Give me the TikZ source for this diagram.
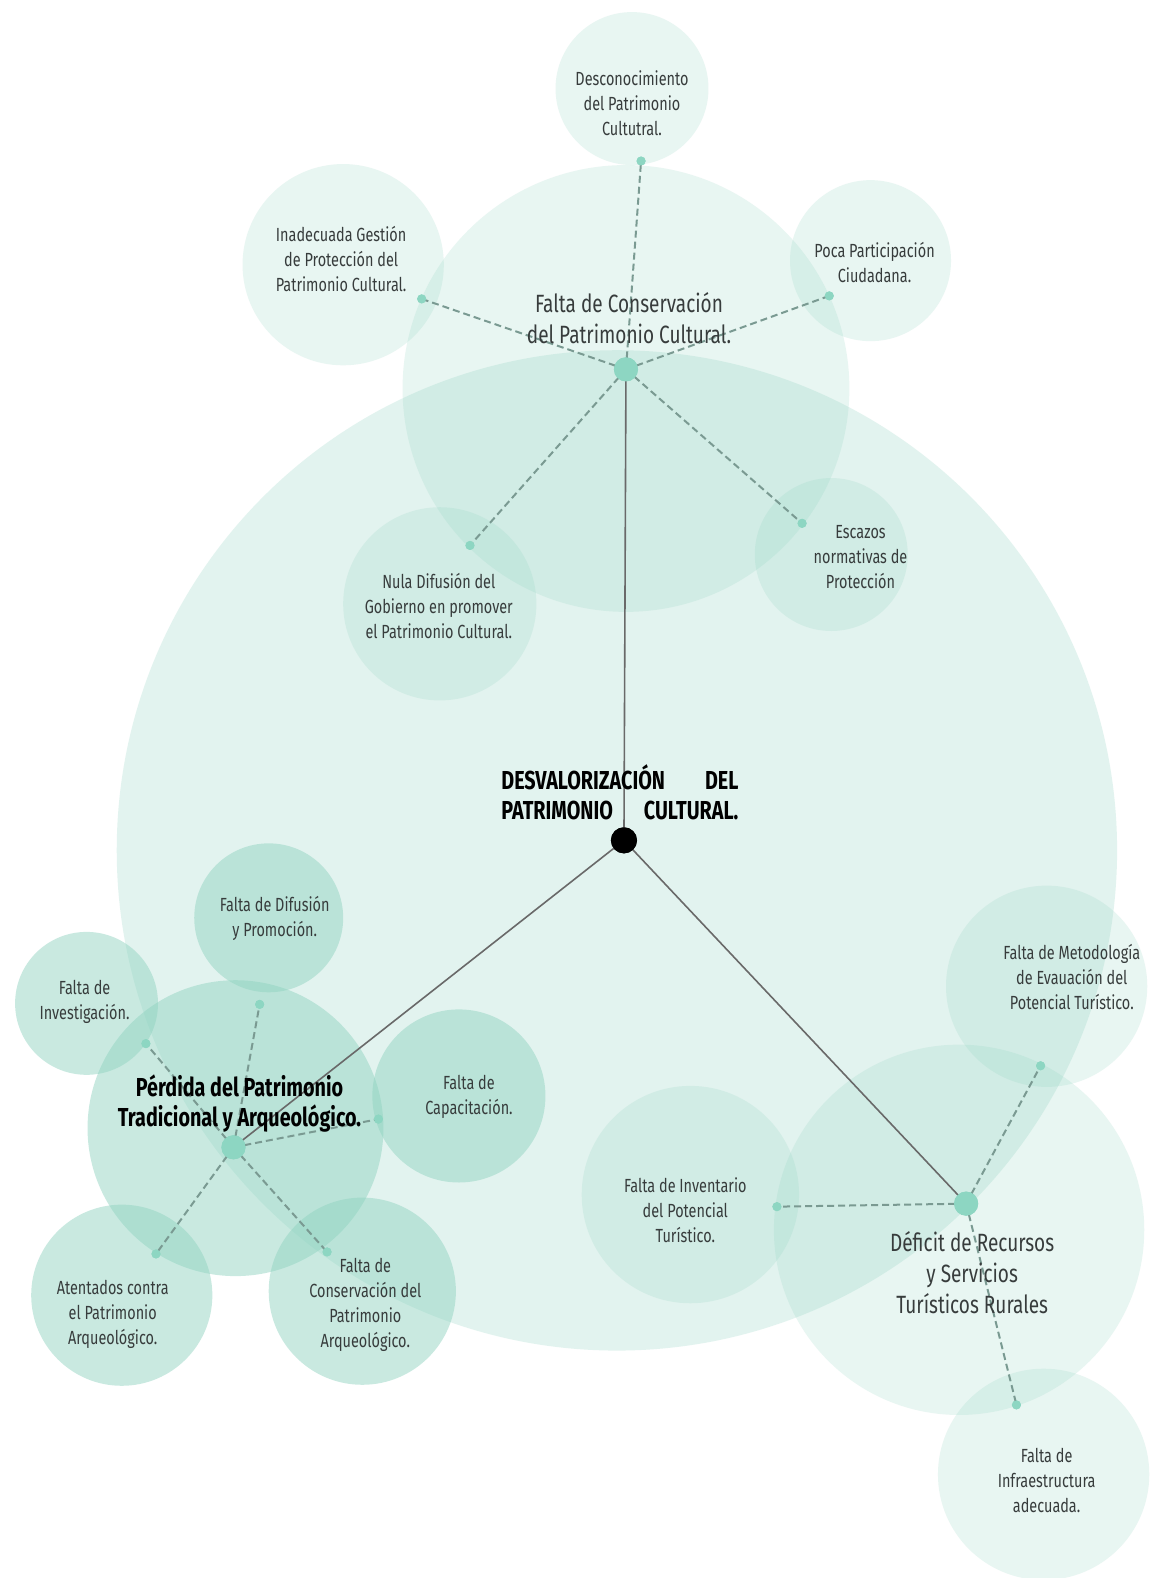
\documentclass[tikz,border=0pt]{standalone}
\usepackage{fontspec}
\setmainfont[FakeStretch=0.76]{Fira Sans}
\definecolor{mintc}{RGB}{143,211,192}
\definecolor{dotc}{RGB}{141,214,194}
\definecolor{dashc}{RGB}{122,154,146}
\definecolor{linec}{RGB}{105,105,105}
\definecolor{txtc}{RGB}{55,60,60}
\begin{document}
\begin{tikzpicture}[x=1.006pt,y=-1.006pt,
  bigc/.style={fill=mintc,fill opacity=0.25},
  softc/.style={fill=mintc,fill opacity=0.20},
  strongc/.style={fill=mintc,fill opacity=0.48},
  hubdot/.style={circle,fill=dotc,minimum size=24pt,inner sep=0pt},
  satdot/.style={circle,fill=dotc,minimum size=9pt,inner sep=0pt},
  maindot/.style={circle,fill=black,minimum size=26pt,inner sep=0pt},
  dashline/.style={draw=dashc,line width=2pt,dash pattern=on 7pt off 4pt},
  solidline/.style={draw=linec,line width=1.6pt},
  sattext/.style={align=center,text=txtc,font=\fontsize{19}{25}\selectfont,inner sep=0pt},
  titletext/.style={align=center,text=txtc,font=\fontsize{25}{31}\selectfont,inner sep=0pt},
  boldtext/.style={align=center,text=black,font=\bfseries\fontsize{26}{30}\selectfont,inner sep=0pt}
]
\useasboundingbox (0,0) rectangle (1165,1568);
\fill[white] (0,0) rectangle (1165,1568);

% background circles
\fill[bigc] (613,845) circle[radius=497];
% top cluster
\fill[softc] (622,386) circle[radius=222];
\fill[softc] (628,88) circle[radius=76];
\fill[softc] (341,263) circle[radius=100];
\fill[softc] (865,259) circle[radius=80];
\fill[softc] (826,551) circle[radius=76];
\fill[softc] (437,600) circle[radius=96];
% left cluster
\fill[strongc] (234,1121) circle[radius=147];
\fill[strongc] (267,912) circle[radius=74];
\fill[strongc] (86,997) circle[radius=71];
\fill[strongc] (456,1089) circle[radius=86];
\fill[strongc] (121,1287) circle[radius=90];
\fill[strongc] (360,1283) circle[radius=93];
% right cluster
\fill[softc] (953,1222) circle[radius=184];
\fill[softc] (1040,980) circle[radius=100];
\fill[softc] (686,1187) circle[radius=108];
\fill[softc] (1037,1465) circle[radius=105];

% hub and satellite dots
\node[hubdot] (T) at (622,367) {};
\node[maindot] (C) at (620,835) {};
\node[hubdot] (L) at (232,1140) {};
\node[hubdot] (R) at (960,1196) {};

\node[satdot] (t1) at (637,160) {};
\node[satdot] (t2) at (419,297) {};
\node[satdot] (t3) at (824,294) {};
\node[satdot] (t4) at (797,520) {};
\node[satdot] (t5) at (467,542) {};

\node[satdot] (l1) at (258,998) {};
\node[satdot] (l2) at (145,1037) {};
\node[satdot] (l3) at (376,1112) {};
\node[satdot] (l4) at (155,1246) {};
\node[satdot] (l5) at (325,1244) {};

\node[satdot] (r1) at (1034,1059) {};
\node[satdot] (r2) at (772,1199) {};
\node[satdot] (r3) at (1010,1396) {};

% connectors
\foreach \s in {t1,t2,t3,t4,t5} {\path[dashline] (T.center) -- (\s.center);}
\foreach \s in {l1,l2,l3,l4,l5} {\path[dashline] (L.center) -- (\s.center);}
\foreach \s in {r1,r2,r3} {\path[dashline] (R.center) -- (\s.center);}
\path[solidline] (T.center) -- (C.center);
\path[solidline] (C.center) -- (L.center);
\path[solidline] (C.center) -- (R.center);

% redraw dots on top of connectors
\foreach \n in {T,L,R} {\fill[dotc] (\n.center) circle[radius=12];}
\foreach \n in {t1,t2,t3,t4,t5,l1,l2,l3,l4,l5,r1,r2,r3} {\fill[dotc] (\n.center) circle[radius=4.5];}
\fill[black] (C.center) circle[radius=13];

% texts
\node[titletext] (tT) at (625,316) {Falta de Conservación\\del Patrimonio Cultural.};
\node[sattext] (tt1) at (628,103) {Desconocimiento\\del Patrimonio\\Cultutral.};
\node[sattext] (tt2) at (339,257) {Inadecuada Gestión\\de Protección del\\Patrimonio Cultural.};
\node[sattext] (tt3) at (869,261) {Poca Participación\\Ciudadana.};
\node[sattext] (tt4) at (855,554) {Escazos\\normativas de\\Protección};
\node[sattext] (tt5) at (436,602) {Nula Difusión del\\Gobierno en promover\\el Patrimonio Cultural.};

\node[boldtext,align=left] (tC) at (616,787) {\makebox[237pt][s]{DESVALORIZACIÓN\hfill DEL}\\\makebox[237pt][s]{PATRIMONIO\hfill CULTURAL.}};

\node[boldtext] (tL) at (238,1097) {Pérdida del Patrimonio\\Tradicional y Arqueológico.};
\node[sattext] (tl1) at (273,913) {Falta de Difusión\\y Promoción.};
\node[sattext] (tl2) at (84,996) {Falta de\\Investigación.};
\node[sattext] (tl3) at (466,1090) {Falta de\\Capacitación.};
\node[sattext] (tl4) at (112,1306) {Atentados contra\\el Patrimonio\\Arqueológico.};
\node[sattext] (tl5) at (363,1297) {Falta de\\Conservación del\\Patrimonio\\Arqueológico.};

\node[titletext] (tR) at (966,1265) {Déficit de Recursos\\y Servicios\\Turísticos Rurales};
\node[sattext] (tr1) at (1065,971) {Falta de Metodología\\de Evauación del\\Potencial Turístico.};
\node[sattext] (tr2) at (681,1203) {Falta de Inventario\\del Potencial\\Turístico.};
\node[sattext] (tr3) at (1040,1471) {Falta de\\Infraestructura\\adecuada.};
\end{tikzpicture}
\end{document}
